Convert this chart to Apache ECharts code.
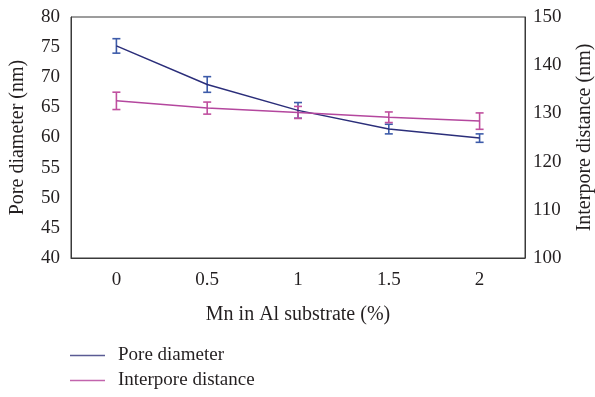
<!DOCTYPE html>
<html><head><meta charset="utf-8">
<script src="https://cdn.jsdelivr.net/npm/echarts@6/dist/echarts.min.js"></script>
<style>html,body{margin:0;padding:0;background:#fff}#c{width:595px;height:397px}</style>
</head><body><div id="c"></div>
<script>
const categories = ['0', '0.5', '1', '1.5', '2'];
const poreDiameter = [75.2, 68.8, 64.5, 61.4, 59.9];
const poreErr = [1.2, 1.3, 1.3, 0.8, 0.7];
const interporeDistance = [132.6, 131.1, 130.2, 129.2, 128.4];
const interporeErr = [1.8, 1.25, 1.25, 1.1, 1.7];
const leftTicks = [40, 80, 5];
const rightTicks = [100, 150, 10];

const FONT = 'Liberation Serif';
const TXT = '#231f20';
const poreLine = '#2b2e7a', poreBar = '#3d5ba9';
const interLine = '#b4479e', interBar = '#c0509f';

function errSeries(vals, errs, yIdx, color) {
  return {
    type: 'custom', yAxisIndex: yIdx, silent: true, z: 3,
    data: vals.map((v, i) => [i, v - errs[i], v + errs[i]]),
    renderItem: function (params, api) {
      const x = api.value(0);
      const lo = api.coord([x, api.value(1)]);
      const hi = api.coord([x, api.value(2)]);
      const w = 4;
      const st = { stroke: color, lineWidth: 1.6, fill: null };
      return { type: 'group', children: [
        { type: 'line', shape: { x1: lo[0], y1: lo[1], x2: hi[0], y2: hi[1] }, style: st },
        { type: 'line', shape: { x1: lo[0] - w, y1: lo[1], x2: lo[0] + w, y2: lo[1] }, style: st },
        { type: 'line', shape: { x1: hi[0] - w, y1: hi[1], x2: hi[0] + w, y2: hi[1] }, style: st }
      ]};
    }
  };
}

const chart = echarts.init(document.getElementById('c'), null, { renderer: 'canvas' });
chart.setOption({
  animation: false,
  textStyle: { fontFamily: FONT, color: TXT },
  grid: { left: 71, right: 70, top: 17, bottom: 139, show: true, borderColor: '#3a3a3a', borderWidth: 1,
          containLabel: false, outerBoundsMode: 'none' },
  legend: {
    orient: 'vertical', left: 70, top: 346, padding: 0, itemGap: 6, itemWidth: 35, itemHeight: 1.5, icon: 'rect',
    textStyle: { fontFamily: FONT, fontSize: 19, color: TXT, padding: [0, 0, 0, 8] },
    data: [
      { name: 'Pore diameter', itemStyle: { color: '#5a5b94' } },
      { name: 'Interpore distance', itemStyle: { color: '#c264ad' } }
    ]
  },
  xAxis: {
    type: 'category', data: categories, boundaryGap: true,
    name: 'Mn in Al substrate (%)', nameLocation: 'middle', nameGap: 47,
    nameTextStyle: { fontFamily: FONT, fontSize: 20, color: TXT },
    axisLine: { lineStyle: { color: '#3a3a3a' } }, axisTick: { show: false },
    axisLabel: { fontFamily: FONT, fontSize: 19, color: TXT, margin: 13 }
  },
  yAxis: [
    { type: 'value', min: leftTicks[0], max: leftTicks[1], interval: leftTicks[2],
      name: 'Pore diameter (nm)', nameLocation: 'middle', nameGap: 43, nameRotate: 90,
      nameTextStyle: { fontFamily: FONT, fontSize: 20, color: TXT },
      axisLine: { show: true, lineStyle: { color: '#3a3a3a' } }, axisTick: { show: false },
      splitLine: { show: false },
      axisLabel: { fontFamily: FONT, fontSize: 19, color: TXT, margin: 11 } },
    { type: 'value', min: rightTicks[0], max: rightTicks[1], interval: rightTicks[2], position: 'right',
      name: 'Interpore distance (nm)', nameLocation: 'middle', nameGap: 50, nameRotate: 90,
      nameTextStyle: { fontFamily: FONT, fontSize: 20, color: TXT },
      axisLine: { show: true, lineStyle: { color: '#3a3a3a' } }, axisTick: { show: false },
      splitLine: { show: false },
      axisLabel: { fontFamily: FONT, fontSize: 19, color: TXT, margin: 8 } }
  ],
  series: [
    { name: 'Pore diameter', type: 'line', yAxisIndex: 0, data: poreDiameter, symbol: 'none',
      lineStyle: { color: poreLine, width: 1.5 }, itemStyle: { color: poreLine }, z: 4 },
    { name: 'Interpore distance', type: 'line', yAxisIndex: 1, data: interporeDistance, symbol: 'none',
      lineStyle: { color: interLine, width: 1.5 }, itemStyle: { color: interLine }, z: 4 },
    errSeries(poreDiameter, poreErr, 0, poreBar),
    errSeries(interporeDistance, interporeErr, 1, interBar)
  ]
});
</script></body></html>
